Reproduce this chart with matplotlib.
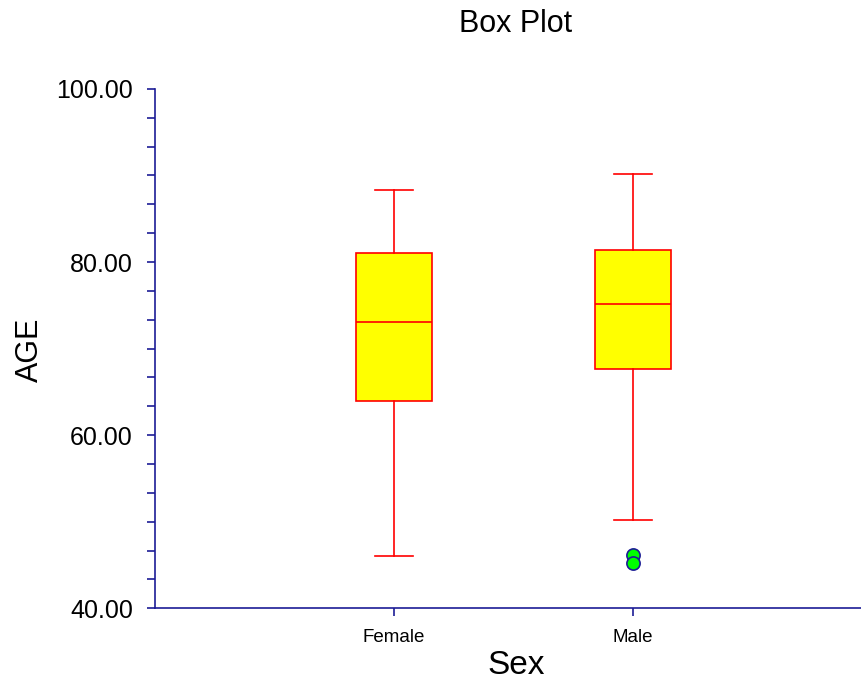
import matplotlib
matplotlib.use("Agg")
import matplotlib.pyplot as plt
from matplotlib.ticker import MultipleLocator, FormatStrFormatter

plt.rcParams["font.family"] = ["Liberation Sans", "DejaVu Sans"]

# -----------------------------
# DATA
# -----------------------------
categorias = ["Female", "Male"]
q1 = [64.0, 67.7]
mediana = [73.1, 75.1]
q3 = [81.0, 81.4]
whisker_low = [46.0, 50.2]
whisker_high = [88.3, 90.2]
outliers = [[], [46.2, 45.2]]

azul = "#1c1c96"

stats = []
for i, nome in enumerate(categorias):
    stats.append(dict(
        label=nome, med=mediana[i], q1=q1[i], q3=q3[i],
        whislo=whisker_low[i], whishi=whisker_high[i], fliers=outliers[i],
    ))

# -----------------------------
# GRÁFICO
# -----------------------------
fig = plt.figure(figsize=(8.62, 6.83), dpi=100, facecolor="white")
ax = fig.add_axes([155 / 862, 74.7 / 683, 717 / 862, 519.4 / 683])

ax.bxp(
    stats,
    positions=[1, 2],
    widths=0.32,
    patch_artist=True,
    boxprops=dict(facecolor="#ffff00", edgecolor="#ff0000", linewidth=1.2),
    medianprops=dict(color="#ff0000", linewidth=1.2),
    whiskerprops=dict(color="#ff0000", linewidth=1.2),
    capprops=dict(color="#ff0000", linewidth=1.2),
    capwidths=0.16,
    flierprops=dict(marker="o", markerfacecolor="#00ff00", markeredgecolor=azul,
                    markersize=9.5, markeredgewidth=1.2, linestyle="none"),
)

ax.set_xlim(0, 3)
ax.set_ylim(40, 100)

ax.yaxis.set_major_locator(MultipleLocator(20))
ax.yaxis.set_minor_locator(MultipleLocator(20 / 6))
ax.yaxis.set_major_formatter(FormatStrFormatter("%.2f"))

ax.set_xticks([1, 2])
ax.set_xticklabels(categorias)

for s in ["top", "right"]:
    ax.spines[s].set_visible(False)
for s in ["left", "bottom"]:
    ax.spines[s].set_color(azul)
    ax.spines[s].set_linewidth(1.2)

ax.tick_params(axis="y", which="both", length=6, width=1.2, color=azul,
               labelsize=18, pad=10)
ax.tick_params(axis="x", length=6, width=1.2, color=azul, labelsize=13.5, pad=9)

fig.text(30 / 862, 1 - 350 / 683, "AGE", ha="center", va="center",
         rotation=90, fontsize=22)
fig.text(516 / 862, 1 - 665 / 683, "Sex", ha="center", va="center", fontsize=24)
fig.text(516 / 862, 1 - 24 / 683, "Box Plot", ha="center", va="center", fontsize=22)

plt.savefig("out.png", dpi=100, facecolor="white")
